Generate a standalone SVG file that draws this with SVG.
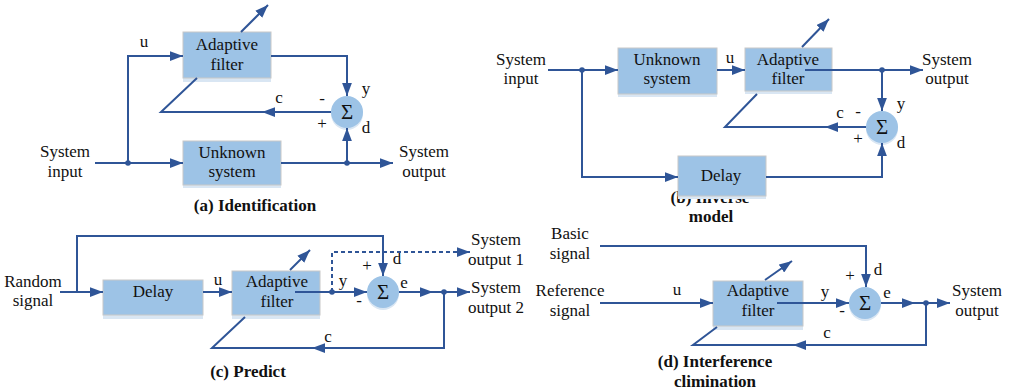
<svg xmlns="http://www.w3.org/2000/svg" width="1010" height="391" viewBox="0 0 1010 391">
<defs>
<marker id="ah" markerUnits="userSpaceOnUse" markerWidth="13" markerHeight="10" refX="12" refY="4.5" orient="auto" viewBox="0 0 12 9"><path d="M0,0 L12,4.5 L0,9 z" fill="#2F5597"/></marker>
<style>
text{font-family:"Liberation Serif","Times New Roman",serif;font-size:17px;fill:#111;}
.c{text-anchor:middle;}
.cap{font-weight:bold;text-anchor:middle;}
.box{fill:#9DC3E6;stroke:#C8C8C8;stroke-width:1;}
.ref{fill:#D9E6F3;}
.sum{fill:#9DC3E6;}
.sumsh{fill:#D9E6F3;}
.sig{font-size:21px;text-anchor:middle;}
.ln{fill:none;stroke:#2F5597;stroke-width:2;}
.ar{marker-end:url(#ah);}
.dash{stroke-dasharray:4 3;}
.dot{fill:#2F5597;}
</style>
</defs>
<rect width="1010" height="391" fill="#fff"/>

<!-- captions / free labels -->
<g id="labels">
<text class="c" x="65" y="157">System</text><text class="c" x="65" y="177">input</text>
<text class="c" x="424" y="157">System</text><text class="c" x="424" y="177">output</text>
<text class="c" x="144" y="47">u</text>
<text class="c" x="279" y="103">c</text>
<text class="c" x="366" y="94">y</text>
<text class="c" x="322" y="104">-</text>
<text class="c" x="322" y="129">+</text>
<text class="c" x="366" y="133">d</text>
<text class="cap" x="255" y="211">(a) Identification</text>

<text class="c" x="521" y="65">System</text><text class="c" x="521" y="84">input</text>
<text class="c" x="947" y="65">System</text><text class="c" x="947" y="84">output</text>
<text class="c" x="730" y="63">u</text>
<text class="c" x="901" y="109">y</text>
<text class="c" x="858" y="117">-</text>
<text class="c" x="840" y="118">c</text>
<text class="c" x="858" y="144">+</text>
<text class="c" x="901" y="148">d</text>
<text class="cap" x="710" y="203">(b) Inverse</text>
<text class="cap" x="711" y="222">model</text>

<text class="c" x="33" y="287">Random</text><text class="c" x="33" y="306">signal</text>
<text class="c" x="218" y="285">u</text>
<text class="c" x="343" y="286">y</text>
<text class="c" x="359" y="306">-</text>
<text class="c" x="367" y="271">+</text>
<text class="c" x="397" y="264">d</text>
<text class="c" x="404" y="288">e</text>
<text class="c" x="328" y="342">c</text>
<text class="c" x="496" y="245">System</text><text class="c" x="496" y="265">output 1</text>
<text class="c" x="496" y="293">System</text><text class="c" x="496" y="313">output 2</text>
<text class="cap" x="248" y="377">(c) Predict</text>

<text class="c" x="570" y="239">Basic</text><text class="c" x="570" y="259">signal</text>
<text class="c" x="570" y="296">Reference</text><text class="c" x="570" y="316">signal</text>
<text class="c" x="677" y="295">u</text>
<text class="c" x="825" y="297">y</text>
<text class="c" x="842" y="316">-</text>
<text class="c" x="850" y="281">+</text>
<text class="c" x="878" y="275">d</text>
<text class="c" x="887" y="298">e</text>
<text class="c" x="827" y="338">c</text>
<text class="c" x="977" y="296">System</text><text class="c" x="977" y="316">output</text>
<text class="cap" x="715" y="367">(d) Interference</text>
<text class="cap" x="715" y="387">climination</text>
</g>

<!-- nodes -->
<g id="a-adaptive"><rect class="ref" x="183" y="78" width="88" height="4"/><rect class="box" x="183" y="32" width="88" height="46"/><text class="c" x="227" y="50">Adaptive</text><text class="c" x="227" y="70">filter</text></g>
<g id="a-unknown"><rect class="ref" x="183" y="185" width="98" height="3"/><rect class="box" x="183" y="141" width="98" height="44"/><text class="c" x="232" y="158">Unknown</text><text class="c" x="232" y="177">system</text></g>
<g id="a-sum"><circle class="sumsh" cx="347" cy="114" r="16"/><circle class="sum" cx="347" cy="112" r="16"/><text class="sig" x="347" y="119">Σ</text></g>

<g id="b-unknown"><rect class="ref" x="618" y="94" width="99" height="3"/><rect class="box" x="618" y="48" width="99" height="46"/><text class="c" x="667" y="65">Unknown</text><text class="c" x="667" y="84">system</text></g>
<g id="b-adaptive"><rect class="ref" x="745" y="91" width="87" height="3"/><rect class="box" x="745" y="48" width="87" height="43"/><text class="c" x="788" y="65">Adaptive</text><text class="c" x="788" y="84">filter</text></g>
<g id="b-sum"><circle class="sumsh" cx="882" cy="129" r="16"/><circle class="sum" cx="882" cy="127" r="16"/><text class="sig" x="882" y="134">Σ</text></g>
<g id="b-delay"><rect class="ref" x="678" y="196" width="88" height="3"/><rect class="box" x="678" y="156" width="88" height="40"/><text class="c" x="721" y="181">Delay</text></g>

<g id="c-delay"><rect class="ref" x="103" y="315" width="100" height="4"/><rect class="box" x="103" y="280" width="100" height="35"/><text class="c" x="153" y="297">Delay</text></g>
<g id="c-adaptive"><rect class="ref" x="232" y="315" width="88" height="4"/><rect class="box" x="232" y="271" width="88" height="44"/><text class="c" x="277" y="287">Adaptive</text><text class="c" x="277" y="307">filter</text></g>
<g id="c-sum"><circle class="sumsh" cx="383" cy="294" r="16"/><circle class="sum" cx="383" cy="292" r="16"/><text class="sig" x="383" y="299">Σ</text></g>

<g id="d-adaptive"><rect class="ref" x="713" y="326" width="90" height="4"/><rect class="box" x="713" y="281" width="90" height="45"/><text class="c" x="758" y="296">Adaptive</text><text class="c" x="758" y="316">filter</text></g>
<g id="d-sum"><circle class="sumsh" cx="865" cy="305" r="16"/><circle class="sum" cx="865" cy="303" r="16"/><text class="sig" x="865" y="310">Σ</text></g>

<!-- connectors -->
<g id="connectors">
<!-- (a) -->
<path class="ln ar" d="M95,163 H183"/>
<path class="ln ar" d="M128,163 V56 H183"/>
<path class="ln ar" d="M271,56 H347 V96"/>
<path class="ln ar" d="M281,163 H393"/>
<path class="ln ar" d="M347,163 V128"/>
<path class="ln ar" d="M331,112 H262"/>
<path class="ln" d="M263,112 H161 L197,78"/>
<path class="ln ar" d="M241,32 L268,5"/>
<circle class="dot" cx="128" cy="163" r="2.8"/>
<circle class="dot" cx="347" cy="163" r="2.8"/>
<!-- (b) -->
<path class="ln ar" d="M548,70 H618"/>
<path class="ln ar" d="M717,70 H745"/>
<path class="ln ar" d="M805,70 H923"/>
<path class="ln ar" d="M882,70 V111"/>
<path class="ln ar" d="M866,127 H825"/>
<path class="ln" d="M826,127 H725 L757,94"/>
<path class="ln ar" d="M802,47 L829,19"/>
<path class="ln ar" d="M582,70 V177 H678"/>
<path class="ln ar" d="M766,177 H882 V143"/>
<circle class="dot" cx="582" cy="70" r="2.8"/>
<circle class="dot" cx="882" cy="70" r="2.8"/>
<!-- (c) -->
<path class="ln ar" d="M60,292 H103"/>
<path class="ln ar" d="M77,292 V236 H383 V276"/>
<path class="ln ar" d="M203,292 H232"/>
<path class="ln ar" d="M295,292 H367"/>
<path class="ln ar dash" d="M332,292 V252 H470"/>
<path class="ln ar" d="M399,292 H433"/>
<path class="ln ar" d="M432,292 H470"/>
<path class="ln ar" d="M444,292 V348 H312"/>
<path class="ln" d="M313,348 H212 L245,317"/>
<path class="ln ar" d="M290,270 L310,250"/>
<circle class="dot" cx="332" cy="292" r="2.8"/>
<circle class="dot" cx="444" cy="292" r="2.8"/>
<!-- (d) -->
<path class="ln ar" d="M600,246 H866 V287"/>
<path class="ln ar" d="M600,303 H713"/>
<path class="ln ar" d="M777,303 H849"/>
<path class="ln ar" d="M881,303 H915"/>
<path class="ln ar" d="M914,303 H950"/>
<path class="ln ar" d="M926,303 V345 H793"/>
<path class="ln" d="M794,345 H693 L717,327"/>
<path class="ln ar" d="M765,280 L792,261"/>
<circle class="dot" cx="926" cy="303" r="2.8"/>
</g>
</svg>
